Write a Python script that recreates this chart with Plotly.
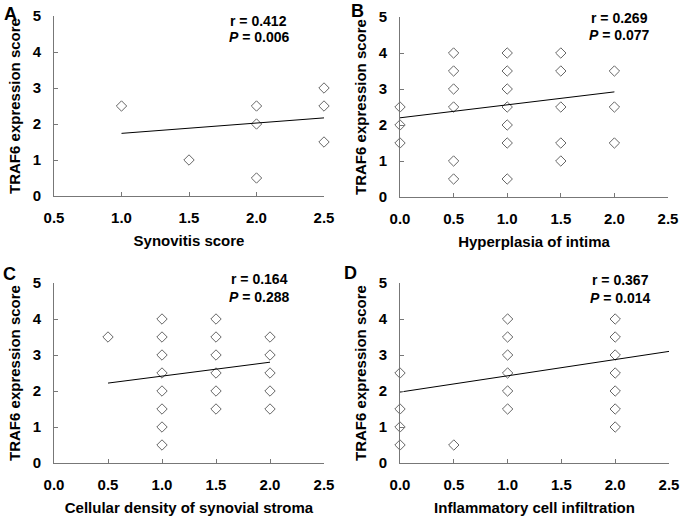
import plotly.graph_objects as go

# ---- data ----
a_x = [1.0, 1.5, 2.0, 2.0, 2.0, 2.5, 2.5, 2.5]
a_y = [2.5, 1.0, 2.5, 2.0, 0.5, 3.0, 2.5, 1.5]
a_fit_x = [1.0, 2.5]
a_fit_y = [1.74, 2.17]

b_x = [0, 0, 0, 0.5, 0.5, 0.5, 0.5, 0.5, 0.5,
       1.0, 1.0, 1.0, 1.0, 1.0, 1.0, 1.0,
       1.5, 1.5, 1.5, 1.5, 1.5, 2.0, 2.0, 2.0]
b_y = [2.5, 2.0, 1.5, 4.0, 3.5, 3.0, 2.5, 1.0, 0.5,
       4.0, 3.5, 3.0, 2.5, 2.0, 1.5, 0.5,
       4.0, 3.5, 2.5, 1.5, 1.0, 3.5, 2.5, 1.5]
b_fit_x = [0.0, 2.0]
b_fit_y = [2.2, 2.92]

c_x = [0.5, 1.0, 1.0, 1.0, 1.0, 1.0, 1.0, 1.0, 1.0,
       1.5, 1.5, 1.5, 1.5, 1.5, 1.5, 2.0, 2.0, 2.0, 2.0, 2.0]
c_y = [3.5, 4.0, 3.5, 3.0, 2.5, 2.0, 1.5, 1.0, 0.5,
       4.0, 3.5, 3.0, 2.5, 2.0, 1.5, 3.5, 3.0, 2.5, 2.0, 1.5]
c_fit_x = [0.5, 2.0]
c_fit_y = [2.22, 2.8]

d_x = [0, 0, 0, 0, 0.5, 1.0, 1.0, 1.0, 1.0, 1.0, 1.0,
       2.0, 2.0, 2.0, 2.0, 2.0, 2.0, 2.0]
d_y = [2.5, 1.5, 1.0, 0.5, 0.5, 4.0, 3.5, 3.0, 2.5, 2.0, 1.5,
       4.0, 3.5, 3.0, 2.5, 2.0, 1.5, 1.0]
d_fit_x = [0.0, 2.5]
d_fit_y = [1.97, 3.1]

panels = [
    dict(letter="A", x=a_x, y=a_y, fx=a_fit_x, fy=a_fit_y, xr=[0.5, 2.5],
         ticks=[0.5, 1.0, 1.5, 2.0, 2.5], xtitle="Synovitis score", r="0.412", p="0.006"),
    dict(letter="B", x=b_x, y=b_y, fx=b_fit_x, fy=b_fit_y, xr=[0.0, 2.5],
         ticks=[0.0, 0.5, 1.0, 1.5, 2.0, 2.5], xtitle="Hyperplasia of intima", r="0.269", p="0.077"),
    dict(letter="C", x=c_x, y=c_y, fx=c_fit_x, fy=c_fit_y, xr=[0.0, 2.5],
         ticks=[0.0, 0.5, 1.0, 1.5, 2.0, 2.5], xtitle="Cellular density of synovial stroma", r="0.164", p="0.288"),
    dict(letter="D", x=d_x, y=d_y, fx=d_fit_x, fy=d_fit_y, xr=[0.0, 2.5],
         ticks=[0.0, 0.5, 1.0, 1.5, 2.0, 2.5], xtitle="Inflammatory cell infiltration", r="0.367", p="0.014"),
]
y_ticks = [0, 1, 2, 3, 4, 5]

W, H = 685, 524
# pixel boxes in window coords: (left, right, top, bottom)
boxes = [(54, 324, 16, 196), (400, 668, 17, 197), (54, 324, 283, 463), (400, 669, 283, 463)]
letter_pos = [(10, 14), (357, 11), (9, 274), (350, 273)]
r_pos = [(258, 21), (619, 18), (259, 279), (620, 280)]
p_pos = [(259, 37), (619, 35), (259, 297), (620, 298)]


def px(x):
    return x / W


def py(y):
    return 1 - y / H


FONT = "Liberation Sans, Arial, sans-serif"
fig = go.Figure()
axcol = "#777777"

for i, (pn, bx) in enumerate(zip(panels, boxes)):
    n = "" if i == 0 else str(i + 1)
    L, R, T, B = bx
    xd = [px(L), px(R)]
    yd = [py(B), py(T)]
    fig.add_trace(go.Scatter(x=pn["x"], y=pn["y"], mode="markers", cliponaxis=False,
                             marker=dict(symbol="diamond-open", size=8, color="#666666",
                                         line=dict(width=1)),
                             xaxis="x" + n, yaxis="y" + n, showlegend=False))
    fig.add_trace(go.Scatter(x=pn["fx"], y=pn["fy"], mode="lines", cliponaxis=False,
                             line=dict(color="black", width=1),
                             xaxis="x" + n, yaxis="y" + n, showlegend=False))
    fig.layout["xaxis" + n] = dict(
        domain=xd, range=pn["xr"], tickvals=pn["ticks"],
        ticktext=[f"{t:.1f}" for t in pn["ticks"]], automargin=False,
        showgrid=False, zeroline=False, showline=True, linecolor=axcol, linewidth=1,
        ticks="inside", ticklen=4, tickcolor=axcol, anchor="y" + n,
        tickfont=dict(family=FONT, size=15, color="black", weight="bold"),
        ticklabelstandoff=8,
        title=dict(text=pn["xtitle"], standoff=10,
                   font=dict(family=FONT, size=15, color="black", weight="bold")))
    fig.layout["yaxis" + n] = dict(
        domain=yd, range=[0, 5], tickvals=y_ticks, automargin=False,
        showgrid=False, zeroline=False, showline=True, linecolor=axcol, linewidth=1,
        ticks="inside", ticklen=4, tickcolor=axcol, anchor="x" + n,
        tickfont=dict(family=FONT, size=15, color="black", weight="bold"),
        ticklabelstandoff=9,
        title=dict(text="TRAF6 expression score", standoff=8,
                   font=dict(family=FONT, size=15, color="black", weight="bold")))
    lx, ly = letter_pos[i]
    fig.add_annotation(text=pn["letter"], xref="paper", yref="paper",
                       x=px(lx), y=py(ly), xanchor="center", yanchor="middle",
                       showarrow=False,
                       font=dict(family=FONT, size=18, color="black", weight="bold"))
    rx, ry = r_pos[i]
    fig.add_annotation(text=f"r = {pn['r']}", xref="paper", yref="paper",
                       x=px(rx), y=py(ry), xanchor="center", yanchor="middle",
                       showarrow=False,
                       font=dict(family=FONT, size=14, color="black", weight="bold"))
    qx, qy = p_pos[i]
    fig.add_annotation(text=f"<i>P</i> = {pn['p']}", xref="paper", yref="paper",
                       x=px(qx), y=py(qy), xanchor="center", yanchor="middle",
                       showarrow=False,
                       font=dict(family=FONT, size=14, color="black", weight="bold"))

fig.update_layout(width=W, height=H, margin=dict(l=0, r=0, t=0, b=0),
                  paper_bgcolor="white", plot_bgcolor="white", hovermode=False)
fig.write_html("out.html", config={"displayModeBar": False, "staticPlot": True},
               post_script="document.body.style.margin='0';")
